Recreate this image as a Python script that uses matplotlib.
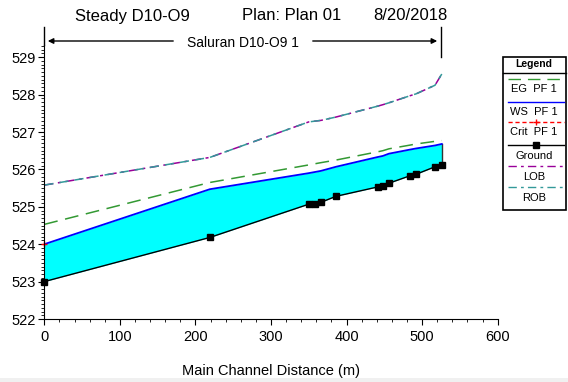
import matplotlib
matplotlib.use("Agg")
import matplotlib.pyplot as plt
from matplotlib.lines import Line2D
from matplotlib.patches import Rectangle
from matplotlib.ticker import MultipleLocator

plt.rcParams['font.family'] = ['Liberation Sans', 'DejaVu Sans']

# profile data
station = [0, 219, 350, 358, 366, 386, 441, 448, 456, 484, 492, 517, 526]
ground = [523.0, 524.18, 525.07, 525.08, 525.12, 525.28, 525.53, 525.56, 525.63, 525.83, 525.87, 526.07, 526.12]
ws = [524.0, 525.47, 525.9, 525.93, 525.96, 526.07, 526.33, 526.36, 526.42, 526.53, 526.56, 526.64, 526.68]
eg = [524.53, 525.65, 526.12, 526.15, 526.18, 526.25, 526.47, 526.5, 526.55, 526.65, 526.68, 526.75, 526.77]
lob = [525.58, 526.32, 527.27, 527.29, 527.31, 527.40, 527.69, 527.73, 527.78, 527.97, 528.02, 528.25, 528.55]
rob = lob
crit_x = [0]
crit_y = [524.0]

W, H = 568, 382
def px(x, y):
    return x / W, 1 - y / H

fig = plt.figure(figsize=(W / 100, H / 100), dpi=100)
ax = fig.add_axes([44.3 / W, 63 / H, (497.7 - 44.3) / W, (319 - 45) / H])

ax.fill_between(station, ground, ws, color="#00ffff", lw=0)
ax.plot([station[-1], station[-1]], [ground[-1], ws[-1]], color="#333333", lw=1)
ax.plot(station, eg, color="#339933", lw=1.1, dashes=(9, 5))
ax.plot(station, lob, color="#990099", lw=1.1, dashes=(6, 3, 2, 3))
ax.plot(station, rob, color="#339999", lw=1.1, dashes=(6, 4))
ax.plot(station, ws, color="#0000ff", lw=1.3)
ax.plot(crit_x, crit_y, "+", color="red", ms=5, mew=1, clip_on=False)
ax.plot(station, ground, color="black", lw=1, marker="s", ms=5, clip_on=False)

ax.set_xlim(0, 600)
ax.set_ylim(522, 522 + (319 - 45) / 37.4)
ax.xaxis.set_major_locator(MultipleLocator(100))
ax.xaxis.set_minor_locator(MultipleLocator(20))
ax.yaxis.set_major_locator(MultipleLocator(1))
ax.yaxis.set_minor_locator(MultipleLocator(0.1))
ax.tick_params(which="major", length=4, labelsize=10.5, pad=2)
ax.tick_params(axis="x", which="major", pad=4)
ax.tick_params(which="minor", length=2)
for s in ["top", "right"]:
    ax.spines[s].set_visible(False)
ax.set_xlabel("Main Channel Distance (m)", fontsize=10.5, labelpad=14)

# title
fig.text(*px(75, 16), "Steady D10-O9", fontsize=12, va="center", ha="left")
fig.text(*px(242, 16), "Plan: Plan 01", fontsize=12, va="center", ha="left")
fig.text(*px(373, 16), "8/20/2018", fontsize=12, va="center", ha="left")

# reach bracket
fig.add_artist(Line2D(*zip(px(44.3, 27), px(44.3, 45)), color="black", lw=1))
fig.add_artist(Line2D(*zip(px(441, 27), px(441, 57)), color="black", lw=1))
ax.annotate("", xy=px(45, 41), xytext=px(176, 41), xycoords="figure fraction",
            arrowprops=dict(arrowstyle="-|>", color="black", lw=1, mutation_scale=8))
ax.annotate("", xy=px(440, 41), xytext=px(310, 41), xycoords="figure fraction",
            arrowprops=dict(arrowstyle="-|>", color="black", lw=1, mutation_scale=8))
fig.text(*px(243, 43), "Saluran D10-O9 1", fontsize=10, ha="center", va="center")

# legend box
x0, x1, y0, y1 = 502.5, 566, 57, 210
bx, by = px(x0, y1)
fig.add_artist(Rectangle((bx, by), (x1 - x0) / W, (y1 - y0) / H, transform=fig.transFigure,
                         fill=False, ec="black", lw=1.2))
fig.add_artist(Line2D(*zip(px(x0, 72.5), px(x1, 72.5)), color="black", lw=1))
fig.text(*px(534, 64), "Legend", fontsize=7.5, fontweight="bold", ha="center", va="center")

entries = [
    ("EG  PF 1", 79, dict(color="#339933", dashes=(9, 5))),
    ("WS  PF 1", 101.7, dict(color="#0000ff")),
    ("Crit  PF 1", 121.7, dict(color="red", dashes=(3, 2))),
    ("Ground", 145, dict(color="black")),
    ("LOB", 166, dict(color="#990099", dashes=(6, 3, 2, 3))),
    ("ROB", 187.3, dict(color="#339999", dashes=(6, 3, 2, 3))),
]
for label, ly, style in entries:
    fig.add_artist(Line2D(*zip(px(508, ly), px(564, ly)), lw=1, **style))
    fig.text(*px(534, ly + 10.5), label, fontsize=8, ha="center", va="center")
mx, my = px(536, 121.7)
fig.add_artist(Line2D([mx], [my], marker="+", color="red", ms=5, mew=1))
mx, my = px(536, 145)
fig.add_artist(Line2D([mx], [my], marker="s", color="black", ms=5))

# grey strip at the bottom of the window
fig.add_artist(Rectangle((0, 0), 1, 4 / H, transform=fig.transFigure, color="#f0f0f0", lw=0))

fig.savefig("out.png", dpi=100)
